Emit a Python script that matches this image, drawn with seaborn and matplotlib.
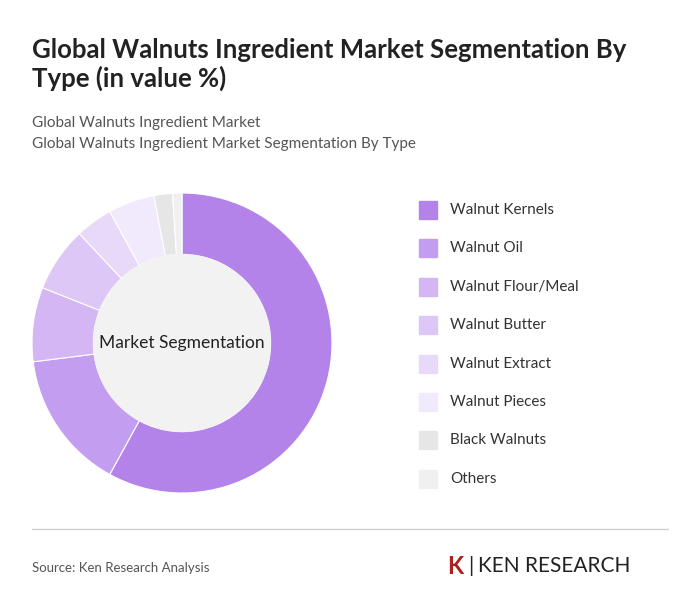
import matplotlib
matplotlib.use("Agg")
import matplotlib.pyplot as plt
import seaborn as sns
from matplotlib.patches import Rectangle, Circle

sns.set_style("white")
plt.rcParams['font.family'] = ['Lato', 'DejaVu Sans']

categories = ["Walnut Kernels", "Walnut Oil", "Walnut Flour/Meal", "Walnut Butter",
              "Walnut Extract", "Walnut Pieces", "Black Walnuts", "Others"]
shares = [58, 15, 8, 7, 4, 5, 2, 1]
colors = ["#b383ea", "#c39df0", "#d3b6f3", "#dcc7f6", "#e8d9f9", "#f1e9fc", "#e6e6e6", "#f0f0f0"]

fig = plt.figure(figsize=(7, 6.15), dpi=100)
fig.patch.set_facecolor("white")

fig.text(32/700, 1-50/615, "Global Walnuts Ingredient Market Segmentation By", fontsize=18.5,
         fontweight="bold", color="#222222", va="center")
fig.text(32/700, 1-78/615, "Type (in value %)", fontsize=18.5, fontweight="bold",
         color="#222222", va="center")
fig.text(32/700, 1-123/615, "Global Walnuts Ingredient Market", fontsize=11, color="#555555", va="center")
fig.text(32/700, 1-144/615, "Global Walnuts Ingredient Market Segmentation By Type", fontsize=11,
         color="#555555", va="center")

ax = fig.add_axes([32/700, 1-493/615, 300/700, 300/615])
ax.pie(shares, colors=colors, startangle=90, counterclock=False,
       wedgeprops=dict(width=0.41, edgecolor="white", linewidth=0.8))
ax.add_patch(Circle((0, 0), 0.59, color="#f2f2f2", zorder=3))
ax.text(0, 0, "Market Segmentation", ha="center", va="center", fontsize=12.5,
        color="#222222", zorder=4)
ax.set_xlim(-1, 1)
ax.set_ylim(-1, 1)
ax.set_aspect("equal")
ax.axis("off")

for i, (cat, col) in enumerate(zip(categories, colors)):
    yc = 210 + i * 38.4
    fig.patches.append(Rectangle((419/700, 1-(yc+9)/615), 18/700, 18/615,
                                 transform=fig.transFigure, color=col))
    fig.text(450/700, 1-yc/615, cat, fontsize=11, color="#333333", va="center")

fig.add_artist(plt.Line2D([32/700, 668/700], [1-529/615, 1-529/615], color="#d0d0d0", lw=1))
fig.text(32/700, 1-568/615, "Source: Ken Research Analysis", fontsize=9.5, color="#555555", va="center")
fig.text(447/700, 1-566/615, "K", fontsize=17, fontweight="bold", color="#b02020", va="center")
fig.text(468/700, 1-566/615, "|", fontsize=15, color="#222222", va="center")
fig.text(478/700, 1-566/615, "KEN RESEARCH", fontsize=15, color="#222222", va="center")

fig.savefig("out.png", dpi=100)
